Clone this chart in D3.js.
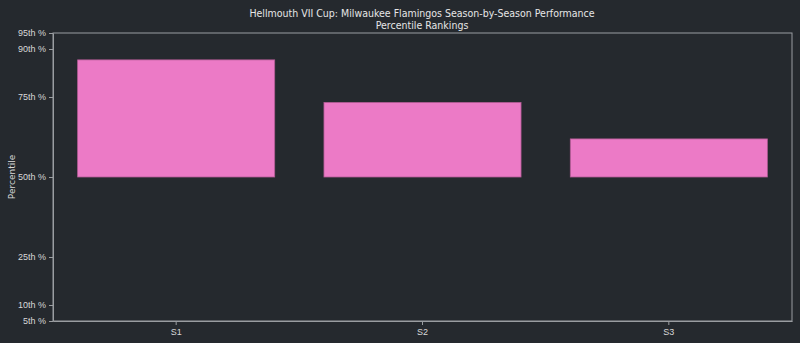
<!DOCTYPE html>
<html>
<head>
<meta charset="utf-8">
<script src="https://cdn.jsdelivr.net/npm/d3@7"></script>
<style>
    body { margin: 0; background: #25292e; }
    svg { display: block; font-family: "DejaVu Sans", sans-serif; }
    .axis path, .axis line { stroke: #9a9da1; }
    .axis text { fill: #d8d8d8; font-size: 9px; }
    .title { font-family: "DejaVu Sans Condensed", "DejaVu Sans", sans-serif; }
</style>
</head>
<body>
<svg id="chart" width="800" height="343"></svg>
<script>
// chart data
const seasons = ['S1', 'S2', 'S3'];
const percentiles = [86.6, 73.3, 61.9];
const tickValues = [5, 10, 25, 50, 75, 90, 95];
const tickLabels = ['5th %', '10th %', '25th %', '50th %', '75th %', '90th %', '95th %'];
const baseline = 50;

const W = 800, H = 343;
const MARGIN = { top: 33, right: 8, bottom: 22, left: 53 };
const width = W - MARGIN.left - MARGIN.right;
const height = H - MARGIN.top - MARGIN.bottom;

const svg = d3.select('#chart');
svg.append('rect').attr('width', W).attr('height', H).attr('fill', '#25292e');

// title, two lines
svg.append('text')
    .attr('class', 'title')
    .attr('x', 422).attr('y', 17)
    .attr('text-anchor', 'middle')
    .attr('fill', '#e6e6e6').attr('font-size', 10.5)
    .text('Hellmouth VII Cup: Milwaukee Flamingos Season-by-Season Performance');
svg.append('text')
    .attr('class', 'title')
    .attr('x', 422).attr('y', 29)
    .attr('text-anchor', 'middle')
    .attr('fill', '#e6e6e6').attr('font-size', 10.5)
    .text('Percentile Rankings');

const g = svg.append('g').attr('transform', `translate(${MARGIN.left},${MARGIN.top})`);

const x = d3.scaleBand().domain(seasons).range([0, width])
    .paddingInner(0.2).paddingOuter(0.1);
const y = d3.scaleLinear().domain([5, 95]).range([height, 0]);

// bars from the 50th percentile line
g.selectAll('rect.bar')
    .data(seasons)
    .join('rect')
    .attr('class', 'bar')
    .attr('x', d => x(d))
    .attr('width', x.bandwidth())
    .attr('y', (d, i) => y(Math.max(percentiles[i], baseline)))
    .attr('height', (d, i) => Math.abs(y(percentiles[i]) - y(baseline)))
    .attr('fill', '#ec7ac6')
    .attr('stroke', '#b25b95')
    .attr('stroke-width', 0.8);

// frame
g.append('rect')
    .attr('width', width).attr('height', height)
    .attr('fill', 'none').attr('stroke', '#9a9da1').attr('stroke-width', 1);

g.append('g')
    .attr('class', 'axis')
    .attr('transform', `translate(0,${height})`)
    .call(d3.axisBottom(x).tickSize(4).tickPadding(4).tickSizeOuter(0));

g.append('g')
    .attr('class', 'axis')
    .call(d3.axisLeft(y).tickValues(tickValues)
        .tickFormat((d, i) => tickLabels[i]).tickSize(4).tickPadding(3).tickSizeOuter(0));

svg.append('text')
    .attr('transform', `translate(15,${MARGIN.top + height / 2}) rotate(-90)`)
    .attr('text-anchor', 'middle')
    .attr('fill', '#d8d8d8').attr('font-size', 9)
    .text('Percentile');
</script>
</body>
</html>
